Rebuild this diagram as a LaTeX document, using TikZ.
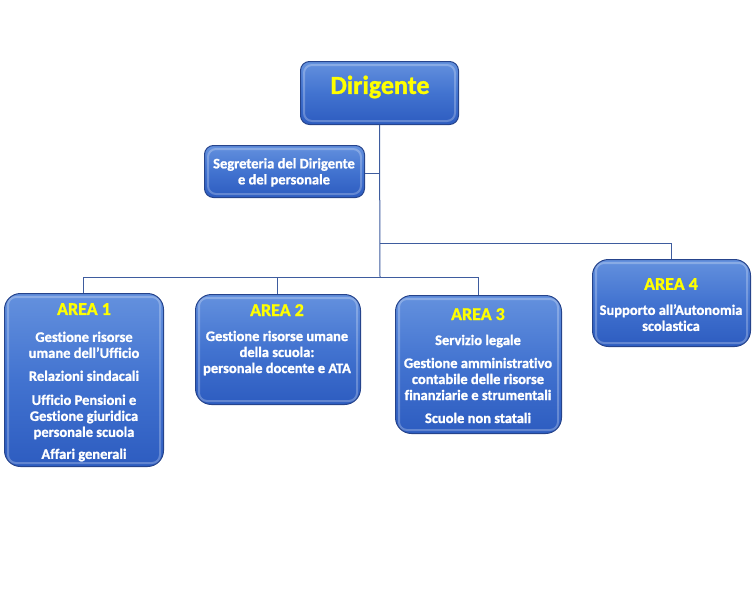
\documentclass[tikz,border=0pt]{standalone}
\usepackage{fontspec}
\setmainfont{Carlito}[BoldFeatures={FakeBold=1.2}, Ligatures=NoCommon]
\usetikzlibrary{positioning}
\definecolor{boxtop}{RGB}{100,145,222}
\definecolor{boxmid}{RGB}{66,115,208}
\definecolor{boxbot}{RGB}{45,92,192}
\definecolor{boxedge}{RGB}{38,68,140}
\definecolor{linkcol}{RGB}{62,92,158}
\definecolor{titleyel}{RGB}{255,255,0}
\tikzset{
  boxshape/.style={rounded corners=#1, draw=boxedge, line width=1pt,
    top color=boxtop, bottom color=boxbot, middle color=boxmid,
    inner sep=0pt, anchor=north west},
  boxshape/.default=14pt,
  txt/.style={text=white, font=\bfseries\fontsize{14.5}{16}\selectfont, align=center, inner sep=0pt, anchor=north},
  link/.style={draw=linkcol, line width=1pt},
}
\newcommand{\ttl}[1]{{\color{titleyel}\fontsize{18}{18}\selectfont #1}}
\begin{document}
\begin{tikzpicture}[x=1pt,y=-1pt]
\useasboundingbox (0,0) rectangle (756,605);
% boxes
\node[boxshape=9pt, minimum width=158pt, minimum height=63pt] (dir) at (300,61) {};
\node[boxshape=9pt, minimum width=160pt, minimum height=52pt] (seg) at (204,145) {};
\node[boxshape=16pt, minimum width=159pt, minimum height=173pt] (a1) at (4,293) {};
\node[boxshape=16pt, minimum width=165pt, minimum height=110pt] (a2) at (195,294) {};
\node[boxshape=16pt, minimum width=166pt, minimum height=138pt] (a3) at (395,295) {};
\node[boxshape=16pt, minimum width=158pt, minimum height=87pt] (a4) at (592,259) {};
% inner highlights
\foreach \b in {dir,seg,a1,a2,a3,a4}{
  \draw[white, opacity=0.25, line width=2pt, rounded corners=8pt]
    ([xshift=4pt,yshift=-4pt]\b.north west) rectangle ([xshift=-4pt,yshift=4pt]\b.south east);
}
% texts
\node[text=titleyel, font=\bfseries\fontsize{26}{26}\selectfont, inner sep=0pt] (tdir) at (380,87) {Dirigente};
\node[txt] (tseg) at (284,158) {Segreteria del Dirigente\\e del personale};
\node[txt] (t1) at (84,303) {\ttl{AREA 1}\\[11pt]Gestione risorse\\umane dell’Ufficio\\[7pt]Relazioni sindacali\\[8pt]Ufficio Pensioni e\\Gestione giuridica\\personale scuola\\[6pt]Affari generali};
\node[txt] (t2) at (277,304) {\ttl{AREA 2}\\[9pt]Gestione risorse umane\\della scuola:\\personale docente e ATA};
\node[txt] (t3) at (478,308) {\ttl{AREA 3}\\[9pt]Servizio legale\\[7pt]Gestione amministrativo\\contabile delle risorse\\finanziarie e strumentali\\[7pt]Scuole non statali};
\node[txt] (t4) at (671,278) {\ttl{AREA 4}\\[9pt]Supporto all’Autonomia\\scolastica};
% connectors
\coordinate (j1) at (380,173);
\coordinate (j2) at (380,243);
\coordinate (j3) at (380,277);
\draw[link] (dir.south) -- (j3);
\draw[link] (seg.east |- j1) -- (j1);
\draw[link] (j2) -| (a4.north);
\draw[link] (j3) -| (a1.north -| 83,0);
\draw[link] (j3) -| (a2.north -| 277,0);
\draw[link] (j3) -| (a3.north -| 478,0);
\end{tikzpicture}
\end{document}
